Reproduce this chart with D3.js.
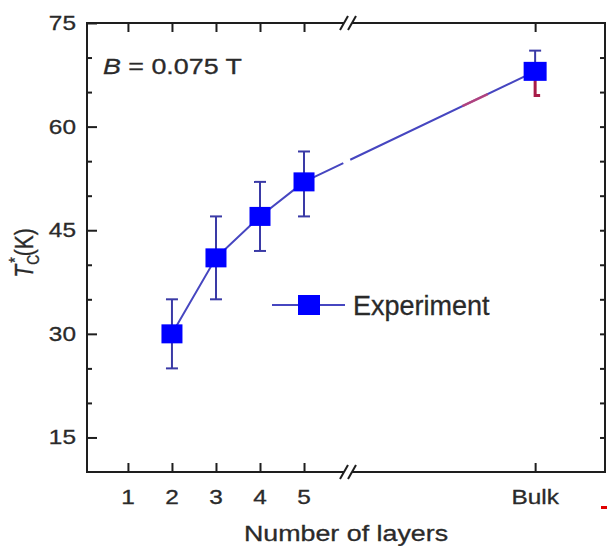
<!DOCTYPE html>
<html>
<head>
<meta charset="utf-8">
<script src="https://cdn.jsdelivr.net/npm/d3@7"></script>
<style>
  body { margin: 0; background: #fff; }
  text { font-family: "Liberation Sans", Arial, sans-serif; fill: #2a2a2a; stroke: #2a2a2a; stroke-width: 0.3; }
</style>
</head>
<body>
<div id="chart"></div>
<script>
// data
var layers = ['1', '2', '3', '4', '5', 'Bulk'];
var pointLayers = ['2', '3', '4', '5', 'Bulk'];
var tcValues = [30, 41, 47, 52, 68];
var errLow = [25, 35, 42, 47, 64.5];
var errHigh = [35, 47, 52, 56.4, 71];
var yMajorTicks = [15, 30, 45, 60, 75];
var yMinorTicks = [20, 25, 35, 40, 50, 55, 65, 70];

var W = 607, H = 546,
    pLeft = 87, pRight = 606, pTop = 23, pBottom = 472,
    stretch = 1.22,
    bulkPos = 10.25; // where "Bulk" sits on the broken axis

var svg = d3.select('#chart').append('svg')
    .attr('width', W)
    .attr('height', H);

// layer number -> x, Bulk placed after the break
function layerVal(l) { return l === 'Bulk' ? bulkPos : +l; }

var x = d3.scaleLinear().domain([0.07, 11.86]).range([pLeft, pRight]);
var y = d3.scaleLinear().domain([10, 75]).range([pBottom, pTop]);

function stretchedText(g, tx, ty, str, size, anchor) {
  return g.append('text')
    .attr('transform', 'translate(' + tx + ',' + ty + ') scale(' + stretch + ',1)')
    .attr('text-anchor', anchor || 'start')
    .attr('font-size', size)
    .text(str);
}

var axisColor = '#1e1e1e';

// axes (ticks point inward)
var xTicks = layers.map(layerVal);
svg.append('g').attr('transform', 'translate(0,' + pBottom + ')')
  .call(d3.axisBottom(x).tickValues(xTicks).tickSize(-9).tickFormat(''));
svg.append('g').attr('transform', 'translate(0,' + pTop + ')')
  .call(d3.axisTop(x).tickValues(xTicks).tickSize(-9).tickFormat(''));
svg.append('g').attr('transform', 'translate(' + pLeft + ',0)')
  .call(d3.axisLeft(y).tickValues(yMajorTicks).tickSize(-10).tickFormat(''));
svg.append('g').attr('transform', 'translate(' + pLeft + ',0)')
  .call(d3.axisLeft(y).tickValues(yMinorTicks).tickSize(-5).tickFormat(''));
svg.append('g').attr('transform', 'translate(' + (pRight - 1) + ',0)')
  .call(d3.axisRight(y).tickValues(yMajorTicks.concat(yMinorTicks).filter(function(v){ return v < 75; }))
    .tickSize(-5).tickFormat(''));

svg.selectAll('.domain').remove();
svg.selectAll('.tick line').attr('stroke', axisColor).attr('stroke-width', 2);

// frame
svg.append('rect')
  .attr('x', pLeft).attr('y', pTop)
  .attr('width', pRight - pLeft - 1).attr('height', pBottom - pTop)
  .attr('fill', 'none').attr('stroke', axisColor).attr('stroke-width', 2);

// axis break marks
[pTop, pBottom].forEach(function(yy) {
  var bx = 348;
  svg.append('rect').attr('x', bx - 4).attr('y', yy - 3).attr('width', 8).attr('height', 6).attr('fill', '#fff');
  [-4, 4].forEach(function(d) {
    svg.append('line')
      .attr('x1', bx + d - 4).attr('y1', yy + 7)
      .attr('x2', bx + d + 4).attr('y2', yy - 7)
      .attr('stroke', axisColor).attr('stroke-width', 2);
  });
});

// tick labels
layers.forEach(function(l) {
  stretchedText(svg, x(layerVal(l)), 504, l, 20, 'middle');
});
yMajorTicks.forEach(function(v) {
  stretchedText(svg, 76, y(v) + 7, v, 20, 'end');
});

// axis titles
stretchedText(svg, 346, 541, 'Number of layers', 22, 'middle');

var yl = svg.append('text')
  .attr('transform', 'translate(33,253) scale(' + stretch + ',1) rotate(-90)')
  .attr('text-anchor', 'middle')
  .attr('font-size', 21);
yl.append('tspan').attr('font-style', 'italic').text('T');
yl.append('tspan').attr('font-size', 14).attr('dy', 5).text('C');
yl.append('tspan').attr('font-size', 14).attr('dx', -8).attr('dy', -15).text('*');
yl.append('tspan').attr('dy', 10).attr('dx', 1).text('(K)');

// field label
var bl = svg.append('text')
  .attr('transform', 'translate(103,74) scale(' + stretch + ',1)')
  .attr('font-size', 22);
bl.append('tspan').attr('font-style', 'italic').text('B');
bl.append('tspan').text(' = 0.075 T');

// series
var pts = pointLayers.map(function(l, i) {
  return { x: x(layerVal(l)), y: y(tcValues[i]), lo: y(errLow[i]), hi: y(errHigh[i]), bulk: l === 'Bulk' };
});

var lineColor = '#4646c0',
    errColor = '#3a3aa6',
    markColor = '#0000ff';

var line = d3.line().x(function(d){ return d.x; }).y(function(d){ return d.y; });

// first part of the curve (2..5)
svg.append('path')
  .datum(pts.slice(0, 4))
  .attr('d', line)
  .attr('fill', 'none').attr('stroke', lineColor).attr('stroke-width', 2);

// 5 -> Bulk segment, with the small gap after the axis break
var seg = svg.append('path')
  .datum(pts.slice(3))
  .attr('d', line)
  .attr('fill', 'none').attr('stroke', lineColor).attr('stroke-width', 2);
var segLen = seg.node().getTotalLength();
seg.attr('stroke-dasharray', [segLen * 0.17, segLen * 0.03, segLen].join(','));

// reddish retouch on the segment
svg.append('path')
  .datum(pts.slice(3))
  .attr('d', line)
  .attr('fill', 'none').attr('stroke', '#c8406e').attr('stroke-width', 2.5).attr('opacity', 0.8)
  .attr('stroke-dasharray', [0, segLen * 0.685, segLen * 0.11, segLen].join(','));

// error bars
var eb = svg.selectAll('g.err').data(pts).enter().append('g');
eb.append('line')
  .attr('x1', function(d){ return d.x; }).attr('x2', function(d){ return d.x; })
  .attr('y1', function(d){ return d.hi; }).attr('y2', function(d){ return d.bulk ? d.y : d.lo; })
  .attr('stroke', errColor).attr('stroke-width', 2);
eb.append('line')
  .attr('x1', function(d){ return d.x - 6; }).attr('x2', function(d){ return d.x + 6; })
  .attr('y1', function(d){ return d.hi; }).attr('y2', function(d){ return d.hi; })
  .attr('stroke', errColor).attr('stroke-width', 2);
eb.filter(function(d){ return !d.bulk; }).append('line')
  .attr('x1', function(d){ return d.x - 6; }).attr('x2', function(d){ return d.x + 6; })
  .attr('y1', function(d){ return d.lo; }).attr('y2', function(d){ return d.lo; })
  .attr('stroke', errColor).attr('stroke-width', 2);

// bulk lower error bar is red
var bulk = pts[pts.length - 1];
svg.append('path')
  .attr('d', 'M' + bulk.x + ',' + bulk.y + 'V' + bulk.lo + 'H' + (bulk.x + 5))
  .attr('fill', 'none').attr('stroke', '#a81c48').attr('stroke-width', 3);

// markers
svg.selectAll('rect.mk').data(pts).enter().append('rect')
  .attr('x', function(d){ return d.x - (d.bulk ? 11.5 : 10.5); })
  .attr('y', function(d){ return d.y - 9.5; })
  .attr('width', function(d){ return d.bulk ? 23 : 21; })
  .attr('height', 19)
  .attr('fill', markColor);

// legend
var lg = svg.append('g').attr('transform', 'translate(272,305)');
lg.append('line').attr('x1', 0).attr('x2', 73).attr('y1', 0).attr('y2', 0)
  .attr('stroke', lineColor).attr('stroke-width', 2);
lg.append('rect').attr('x', 26).attr('y', -10).attr('width', 22).attr('height', 20).attr('fill', markColor);
lg.append('text').attr('x', 81).attr('y', 10).attr('font-size', 27).text('Experiment');

// stray red mark in the lower right corner
svg.append('rect').attr('x', 601).attr('y', 506).attr('width', 6).attr('height', 3).attr('fill', '#e00000');
</script>
</body>
</html>
